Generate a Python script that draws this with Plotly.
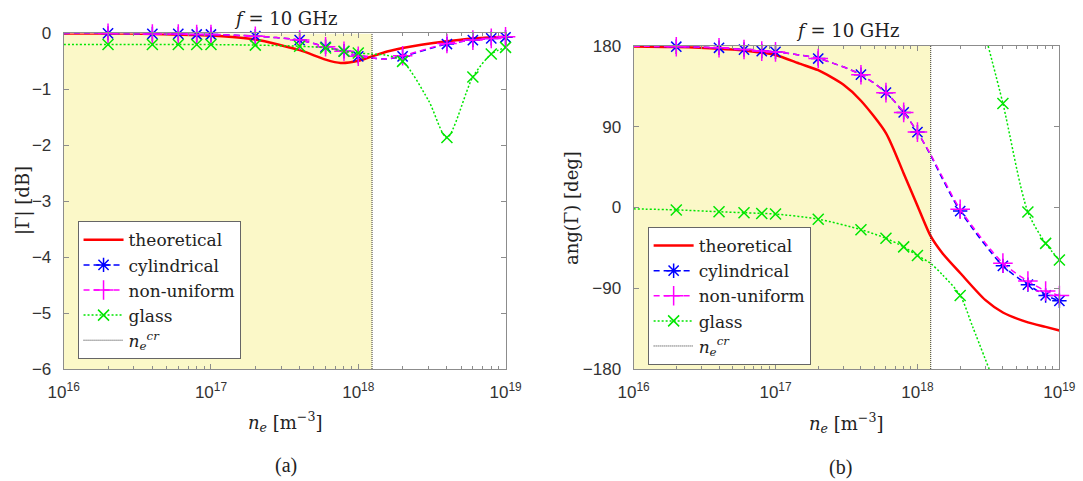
import plotly.graph_objects as go

# Electron densities of the simulation runs [m^-3]
ne_sim = [2e16, 4e16, 6e16, 8e16, 1e17, 2e17, 4e17, 6e17, 8e17,
          1e18, 2e18, 4e18, 6e18, 8e18, 1e19]
ne_cr = 1.24e18  # critical density at 10 GHz

# ---- (a) reflection magnitude |Gamma| [dB] ----
ne_th_a = [1e16, 2e16, 4e16, 1e17, 2e17, 4e17, 6e17, 7.6e17, 1e18,
           1.24e18, 1.6e18, 2e18, 4e18, 6e18, 1e19]
mag_th = [0.0, 0.0, -0.01, -0.04, -0.11, -0.30, -0.47, -0.53, -0.49,
          -0.41, -0.32, -0.26, -0.14, -0.09, -0.06]
mag_cyl = [0.0, -0.01, -0.01, -0.02, -0.02, -0.05, -0.12, -0.24, -0.32,
           -0.41, -0.41, -0.19, -0.12, -0.09, -0.07]
mag_nonuni = [0.0, -0.01, -0.01, -0.02, -0.02, -0.05, -0.12, -0.24, -0.32,
              -0.41, -0.40, -0.18, -0.12, -0.09, -0.06]
mag_glass = [-0.2, -0.2, -0.2, -0.2, -0.2, -0.21, -0.23, -0.26, -0.32,
             -0.35, -0.50, -1.86, -0.78, -0.37, -0.25]
# additional curve samples between the simulated densities
ne_extra_a = [1e16, 1.24e18, 1.5e18]
mag_cyl_extra = [0.0, -0.44, -0.46]
mag_nonuni_extra = [0.0, -0.44, -0.46]
ne_glass_extra_a = [1e16, 1.24e18, 1.55e18, 3e18]
mag_glass_extra = [-0.2, -0.37, -0.39, -1.2]

# ---- (b) reflection phase ang(Gamma) [deg] ----
ne_th_b = [1e16, 2e16, 4e16, 6e16, 8e16, 1e17, 1.5e17, 2e17, 3e17, 4e17,
           6e17, 8e17, 1e18, 1.24e18, 1.5e18, 2e18, 3e18, 4e18, 6e18, 8e18, 1e19]
ang_th = [179.5, 178.8, 177, 175, 172.5, 170, 160, 153, 137, 119,
          83, 38, 2, -32, -51, -73, -103, -117, -128, -133, -137]
ang_cyl = [179.2, 178, 176, 174.3, 173.4, 166, 148, 128, 106,
           84, -4, -65, -86, -98, -104]
ang_nonuni = [179.2, 178, 176, 174.3, 173.4, 166, 148, 128, 106,
              84, -2, -62, -82, -93, -98]
ang_glass = [-2.7, -4.7, -5.8, -6.6, -7.3, -13, -24.7, -34.3, -43.9,
             -53.5, -98, 116, -5, -40, -58.5]
ne_extra_b = [1e16, 1.24e18, 1.5e18]
ang_cyl_extra = [179.8, 58, 32]
ang_nonuni_extra = [179.8, 59, 34]
# glass phase wraps from -180 to +180 near 3.2e18: lower and upper branch samples
ne_wrap = 3.18e18
ne_glass_lo_extra = [1e16, 1.24e18, 1.5e18, 2.45e18, 3.2e18]
ang_glass_lo_extra = [-1.5, -62.4, -75, -133, -180]
ne_glass_hi_extra = [3.15e18]
ang_glass_hi_extra = [180]

RED, BLUE, MAG, GREEN = "#ff0000", "#0000ff", "#ff00ff", "#00e600"
SHADE = "#fbf8c8"
SERIF = "DejaVu Serif"
SANS = "Liberation Sans"


def merged(xs, ys, xe, ye):
    pts = sorted(zip(list(xs) + list(xe), list(ys) + list(ye)))
    return [p[0] for p in pts], [p[1] for p in pts]


def wrapped(xs, ys, xlo, ylo, xhi, yhi, xw):
    lo_x = [x for x in xs if x < xw]
    lo_y = [y for x, y in zip(xs, ys) if x < xw]
    hi_x = [x for x in xs if x >= xw]
    hi_y = [y for x, y in zip(xs, ys) if x >= xw]
    ax, ay = merged(lo_x, lo_y, xlo, ylo)
    bx, by = merged(hi_x, hi_y, xhi, yhi)
    return ax + [None] + bx, ay + [None] + by


fig = go.Figure()

series = [
    ("cylindrical", BLUE, "6px,4px", "asterisk-open", 12),
    ("non-uniform", MAG, "6px,4px", "cross-thin-open", 14),
    ("glass", GREEN, "2px,2px", "x-thin-open", 11),
]


def add_panel(xa, ya, ylo, yhi, th_x, th_y, curves, legend):
    # under-dense region below the critical density
    fig.add_trace(go.Scatter(x=[1e16, ne_cr, ne_cr, 1e16, 1e16],
                             y=[ylo, ylo, yhi, yhi, ylo], fill="toself",
                             fillcolor=SHADE, mode="lines", line=dict(width=0),
                             hoverinfo="skip", showlegend=False,
                             xaxis=xa, yaxis=ya))
    fig.add_trace(go.Scatter(x=th_x, y=th_y, mode="lines",
                             line=dict(color=RED, width=2.5, shape="spline",
                                       smoothing=0.7),
                             showlegend=False, xaxis=xa, yaxis=ya))
    for (name, col, dash, sym, ms), (lx, ly, mx, my) in zip(series, curves):
        fig.add_trace(go.Scatter(x=lx, y=ly, mode="lines",
                                 line=dict(color=col, width=1.5, dash=dash,
                                           shape="spline", smoothing=0.8),
                                 connectgaps=False, showlegend=False,
                                 xaxis=xa, yaxis=ya))
        fig.add_trace(go.Scatter(x=mx, y=my, mode="markers",
                                 marker=dict(symbol=sym, size=ms, color=col,
                                             line=dict(color=col, width=1.5)),
                                 cliponaxis=False, showlegend=False,
                                 xaxis=xa, yaxis=ya))
    fig.add_trace(go.Scatter(x=[ne_cr, ne_cr], y=[ylo, yhi], mode="lines",
                             line=dict(color="#333333", width=1, dash="1px,1px"),
                             showlegend=False, xaxis=xa, yaxis=ya))
    # legend entries
    fig.add_trace(go.Scatter(x=[None], y=[None], mode="lines", name="theoretical",
                             line=dict(color=RED, width=2.5), legend=legend,
                             xaxis=xa, yaxis=ya))
    for name, col, dash, sym, ms in series:
        fig.add_trace(go.Scatter(x=[None], y=[None], mode="lines+markers", name=name,
                                 line=dict(color=col, width=1.5, dash=dash),
                                 marker=dict(symbol=sym, size=ms, color=col,
                                             line=dict(color=col, width=1.5)),
                                 legend=legend, xaxis=xa, yaxis=ya))
    fig.add_trace(go.Scatter(x=[None], y=[None], mode="lines",
                             name="<i>n</i><sub><i>e</i></sub><sup><i>cr</i></sup>",
                             line=dict(color="#333333", width=1, dash="1px,1px"),
                             legend=legend, xaxis=xa, yaxis=ya))


curves_a = [
    (*merged(ne_sim, mag_cyl, ne_extra_a, mag_cyl_extra), ne_sim, mag_cyl),
    (*merged(ne_sim, mag_nonuni, ne_extra_a, mag_nonuni_extra), ne_sim, mag_nonuni),
    (*merged(ne_sim, mag_glass, ne_glass_extra_a, mag_glass_extra), ne_sim, mag_glass),
]
curves_b = [
    (*merged(ne_sim, ang_cyl, ne_extra_b, ang_cyl_extra), ne_sim, ang_cyl),
    (*merged(ne_sim, ang_nonuni, ne_extra_b, ang_nonuni_extra), ne_sim, ang_nonuni),
    (*wrapped(ne_sim, ang_glass, ne_glass_lo_extra, ang_glass_lo_extra,
              ne_glass_hi_extra, ang_glass_hi_extra, ne_wrap), ne_sim, ang_glass),
]

add_panel("x", "y", -6, 0, ne_th_a, mag_th, curves_a, "legend")
add_panel("x2", "y2", -180, 180, ne_th_b, ang_th, curves_b, "legend2")

decade_vals = [1e16, 1e17, 1e18, 1e19]
decade_text = ["10<sup>16</sup>", "10<sup>17</sup>", "10<sup>18</sup>", "10<sup>19</sup>"]
minor_vals = [m * 10 ** e for e in (16, 17, 18) for m in range(2, 10)]

AXCOL = "#8c8c8c"
tickfont = dict(family=SANS, size=17, color="#333333")


def xaxis(domain, anchor):
    return dict(domain=domain, anchor=anchor, type="log", range=[16, 19],
                automargin=False,
                tickmode="array", tickvals=decade_vals, ticktext=decade_text,
                ticks="inside", ticklen=5, tickcolor=AXCOL, showline=True,
                linecolor=AXCOL, linewidth=1, mirror="ticks", showgrid=False,
                zeroline=False, tickfont=tickfont, ticklabelstandoff=8,
                minor=dict(tickmode="array", tickvals=minor_vals, ticks="inside",
                           ticklen=3, tickcolor=AXCOL, showgrid=False))


def yaxis(domain, anchor, rng, vals):
    return dict(domain=domain, anchor=anchor, range=rng, tickmode="array",
                automargin=False,
                tickvals=vals, ticks="inside", ticklen=5, tickcolor=AXCOL,
                showline=True, linecolor=AXCOL, linewidth=1, mirror="ticks",
                showgrid=False, zeroline=False, tickfont=tickfont,
                ticklabelstandoff=8)


legend_style = dict(xanchor="left", yanchor="top", bgcolor="white",
                    bordercolor="#666666", borderwidth=1, itemwidth=40,
                    font=dict(family=SERIF, size=17, color="#222222"),
                    tracegroupgap=0)

W, H = 1083, 481
fig.update_layout(
    width=W, height=H, margin=dict(l=0, r=0, t=0, b=0, autoexpand=False),
    paper_bgcolor="white", plot_bgcolor="white",
    xaxis=xaxis([0.0588, 0.4668], "y"),
    yaxis=yaxis([0.2328, 0.9306], "x", [-6, 0], [-6, -5, -4, -3, -2, -1, 0]),
    xaxis2=xaxis([0.585, 0.9782], "y2"),
    yaxis2=yaxis([0.2328, 0.9044], "x2", [-180, 180], [-180, -90, 0, 90, 180]),
    legend=dict(x=0.0716, y=0.540, **legend_style),
    legend2=dict(x=0.598, y=0.528, **legend_style),
)

txt = dict(family=SERIF, size=18, color="#222222")


def label(x, y, text, angle=0, font=txt):
    fig.add_annotation(x=x / W, y=1 - y / H, xref="paper", yref="paper",
                       text=text, showarrow=False, textangle=angle, font=font,
                       xanchor="center", yanchor="middle")


label(285, 18, "<i>f</i> = 10 GHz")
label(847, 30, "<i>f</i> = 10 GHz")
label(23, 201, "|Γ| [dB]", angle=-90)
label(571, 208, "ang(Γ) [deg]", angle=-90)
label(285, 422, "<i>n<sub>e</sub></i> [m<sup>−3</sup>]")
label(846, 423, "<i>n<sub>e</sub></i> [m<sup>−3</sup>]")
label(286, 465, "(a)", font=dict(family="Liberation Serif", size=20, color="#222222"))
label(840, 467, "(b)", font=dict(family="Liberation Serif", size=20, color="#222222"))

fig.write_html("out.html")
